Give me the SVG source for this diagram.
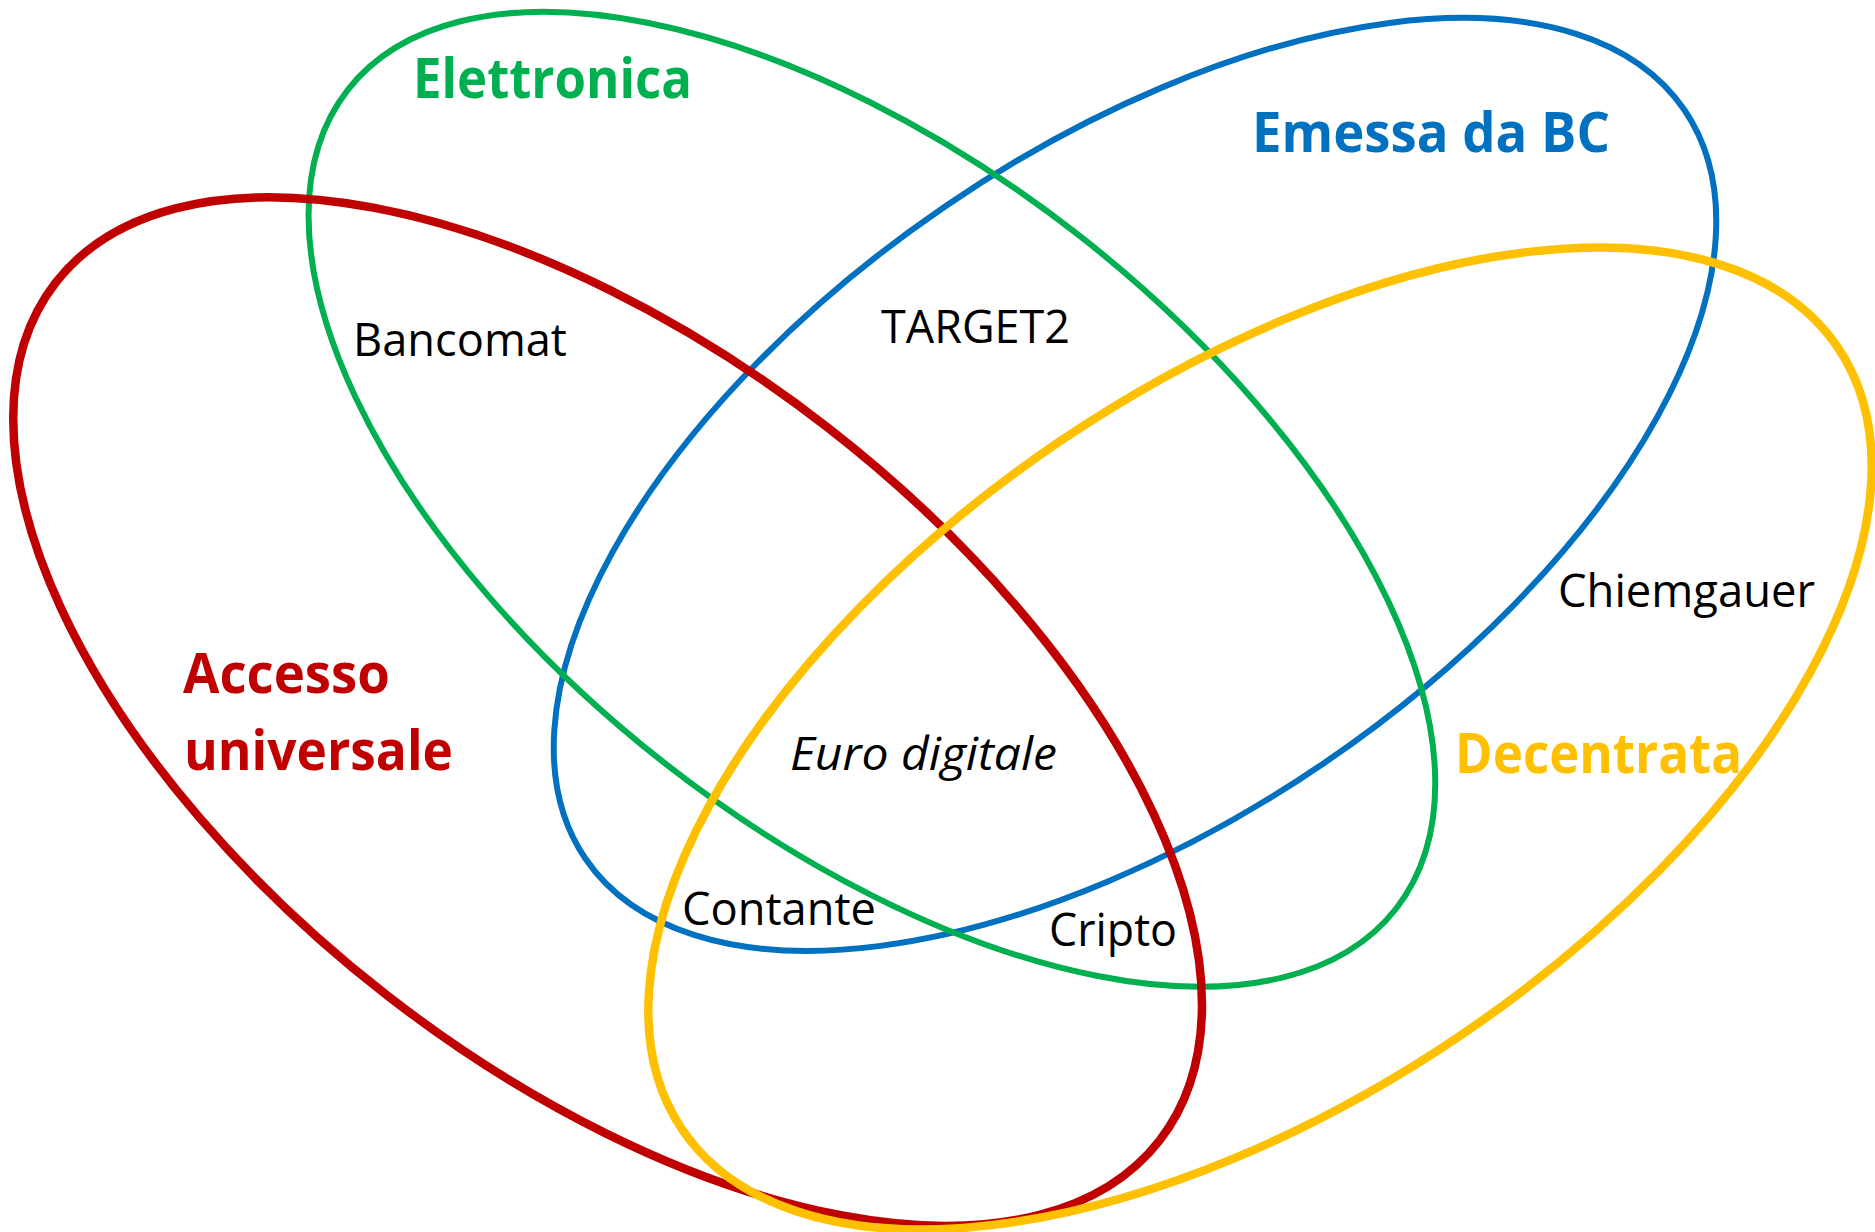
<svg xmlns="http://www.w3.org/2000/svg" width="1875" height="1232" viewBox="0 0 1875 1232">
<style>
.set{fill:none}
.thin{stroke-width:6}
.thick{stroke-width:8.5}
.lbl{font-family:"Open Sans","Noto Sans","Liberation Sans",sans-serif;font-weight:bold;font-size:56px}
.item{font-family:"Open Sans","Noto Sans","Liberation Sans",sans-serif;font-size:46px;fill:#000}
</style>
<rect width="1875" height="1232" fill="#fff"/>
<g id="sets">
<g id="emessa"><ellipse class="set thin" cx="1135" cy="484.4" rx="664.9" ry="336.7" transform="rotate(-34.27 1135 484.4)" stroke="#0070C0"/></g>
<g id="elettronica"><ellipse class="set thin" cx="871.9" cy="499.3" rx="665.1" ry="335.5" transform="rotate(38 871.9 499.3)" stroke="#00B050"/></g>
<g id="accesso"><ellipse class="set thick" cx="607.6" cy="711.6" rx="699" ry="359.4" transform="rotate(37.85 607.6 711.6)" stroke="#C00000"/></g>
<g id="decentrata"><ellipse class="set thick" cx="1260" cy="738.5" rx="697.7" ry="358.3" transform="rotate(-34.1 1260 738.5)" stroke="#FFC000"/></g>
</g>
<g id="labels">
<text class="lbl" x="413" y="98" fill="#00B050" textLength="279" lengthAdjust="spacingAndGlyphs">Elettronica</text>
<text class="lbl" x="1252" y="152" fill="#0070C0" textLength="358" lengthAdjust="spacingAndGlyphs">Emessa da BC</text>
<text class="lbl" x="183" y="693" fill="#C00000" textLength="207" lengthAdjust="spacingAndGlyphs">Accesso</text>
<text class="lbl" x="184" y="770" fill="#C00000" textLength="269" lengthAdjust="spacingAndGlyphs">universale</text>
<text class="lbl" x="1455" y="773" fill="#FFC000" textLength="287" lengthAdjust="spacingAndGlyphs">Decentrata</text>
</g>
<g id="items">
<text class="item" x="353" y="356" textLength="214" lengthAdjust="spacingAndGlyphs">Bancomat</text>
<text class="item" x="881" y="343" textLength="189" lengthAdjust="spacingAndGlyphs">TARGET2</text>
<text class="item" x="1558" y="607" textLength="257" lengthAdjust="spacingAndGlyphs">Chiemgauer</text>
<text class="item" x="790" y="770" font-style="italic" textLength="267" lengthAdjust="spacingAndGlyphs">Euro digitale</text>
<text class="item" x="682" y="925" textLength="194" lengthAdjust="spacingAndGlyphs">Contante</text>
<text class="item" x="1049" y="946" textLength="128" lengthAdjust="spacingAndGlyphs">Cripto</text>
</g>
</svg>
